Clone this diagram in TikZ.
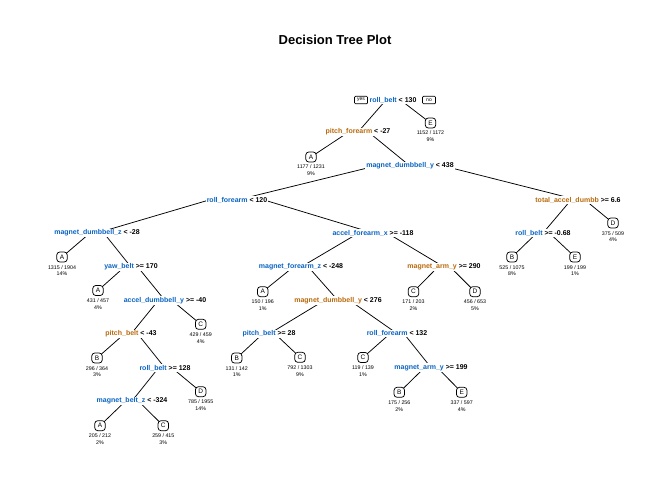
\documentclass[tikz,border=0pt]{standalone}
\usepackage{fontspec}
\setmainfont{Liberation Sans}
\usetikzlibrary{calc,backgrounds}
\definecolor{splitblue}{RGB}{10,100,195}
\definecolor{splitorange}{RGB}{185,105,10}
\newcommand\treeedge[2]{\draw[edge] (#1.center) -- ($(#1.center)!0.2!(#1.center -| #2.center)$) -- (#2.center);}
\newcommand\bv[1]{\textcolor{splitblue}{#1}}
\newcommand\ov[1]{\textcolor{splitorange}{#1}}
\tikzset{
  split/.style={fill=white, inner sep=1pt, font=\fontsize{7}{8}\selectfont\bfseries},
  leafbox/.style={draw, fill=white, rounded corners=3pt, minimum width=10.5pt, minimum height=10pt, inner sep=0pt, line width=0.75pt, font=\fontsize{6.5}{7}\selectfont},
  leaftext/.style={align=center, inner sep=0pt, font=\fontsize{5.3}{6.8}\selectfont},
  yesno/.style={draw, rounded corners=1pt, inner sep=0.5pt, minimum width=13pt, minimum height=7.5pt, line width=0.7pt, font=\fontsize{5}{5.5}\selectfont},
  edge/.style={line width=0.75pt, line join=round},
  titletext/.style={font=\fontsize{13}{15}\selectfont\bfseries}
}
\begin{document}
\begin{tikzpicture}[x=1pt,y=-1pt]
\useasboundingbox (0,0) rectangle (672,480);
\node[titletext] (title) at (335,40) {Decision Tree Plot};
% split nodes
\node[split] (n1) at (393,100) {\bv{roll\_belt} < 130};
\node[yesno] (yes) at (361,100) {yes};
\node[yesno] (no) at (429,100) {no};
\node[split] (n2) at (358,132) {\ov{pitch\_forearm} < -27};
\node[split] (n3) at (410,166) {\bv{magnet\_dumbbell\_y} < 438};
\node[split] (n4) at (237,200) {\bv{roll\_forearm} < 120};
\node[split] (n5) at (578,200) {\ov{total\_accel\_dumbb} >= 6.6};
\node[split] (n6) at (97,233) {\bv{magnet\_dumbbell\_z} < -28};
\node[split] (n7) at (373,233) {\bv{accel\_forearm\_x} >= -118};
\node[split] (n8) at (543,233) {\bv{roll\_belt} >= -0.68};
\node[split] (n9) at (131,267) {\bv{yaw\_belt} >= 170};
\node[split] (n10) at (301,267) {\bv{magnet\_forearm\_z} < -248};
\node[split] (n11) at (444,267) {\ov{magnet\_arm\_y} >= 290};
\node[split] (n12) at (165,300.5) {\bv{accel\_dumbbell\_y} >= -40};
\node[split] (n13) at (338,300.5) {\ov{magnet\_dumbbell\_y} < 276};
\node[split] (n14) at (131,334) {\ov{pitch\_belt} < -43};
\node[split] (n15) at (269,334) {\bv{pitch\_belt} >= 28};
\node[split] (n16) at (397,333.5) {\bv{roll\_forearm} < 132};
\node[split] (n17) at (165,368) {\bv{roll\_belt} >= 128};
\node[split] (n18) at (431,367.5) {\bv{magnet\_arm\_y} >= 199};
\node[split] (n19) at (132,401) {\bv{magnet\_belt\_z} < -324};
% leaves
\node[leafbox] (l1) at (430.5,123) {E};
\node[leaftext] (t1) at (430.5,136.5) {1152 / 1172\\9\%};
\node[leafbox] (l2) at (311,157) {A};
\node[leaftext] (t2) at (311,170.5) {1177 / 1231\\9\%};
\node[leafbox] (l3) at (62,257) {A};
\node[leaftext] (t3) at (62,270.5) {1315 / 1904\\14\%};
\node[leafbox] (l4) at (98,290.5) {A};
\node[leaftext] (t4) at (98,304) {431 / 457\\4\%};
\node[leafbox] (l5) at (200.7,324.3) {C};
\node[leaftext] (t5) at (200.7,337.8) {429 / 459\\4\%};
\node[leafbox] (l6) at (97,358) {B};
\node[leaftext] (t6) at (97,371.5) {296 / 364\\3\%};
\node[leafbox] (l7) at (100,425.7) {A};
\node[leaftext] (t7) at (100,439.2) {205 / 212\\2\%};
\node[leafbox] (l8) at (163.3,425.7) {C};
\node[leaftext] (t8) at (163.3,439.2) {259 / 415\\3\%};
\node[leafbox] (l9) at (200.7,391.7) {D};
\node[leaftext] (t9) at (200.7,405.2) {785 / 1955\\14\%};
\node[leafbox] (l10) at (262.7,291.7) {A};
\node[leaftext] (t10) at (262.7,305.2) {150 / 196\\1\%};
\node[leafbox] (l11) at (236.7,358) {B};
\node[leaftext] (t11) at (236.7,371.5) {131 / 142\\1\%};
\node[leafbox] (l12) at (300,357.3) {C};
\node[leaftext] (t12) at (300,370.8) {792 / 1303\\9\%};
\node[leafbox] (l13) at (363,357.5) {C};
\node[leaftext] (t13) at (363,371) {119 / 139\\1\%};
\node[leafbox] (l14) at (399.3,392.3) {B};
\node[leaftext] (t14) at (399.3,405.8) {175 / 256\\2\%};
\node[leafbox] (l15) at (461.7,392.3) {E};
\node[leaftext] (t15) at (461.7,405.8) {337 / 597\\4\%};
\node[leafbox] (l16) at (413.5,291.7) {C};
\node[leaftext] (t16) at (413.5,305.2) {171 / 203\\2\%};
\node[leafbox] (l17) at (475,291.7) {D};
\node[leaftext] (t17) at (475,305.2) {456 / 653\\5\%};
\node[leafbox] (l18) at (512,257) {B};
\node[leaftext] (t18) at (512,270.5) {525 / 1075\\8\%};
\node[leafbox] (l19) at (575,257) {E};
\node[leaftext] (t19) at (575,270.5) {199 / 199\\1\%};
\node[leafbox] (l20) at (613,223) {D};
\node[leaftext] (t20) at (613,236.5) {375 / 509\\4\%};
% edges
\begin{scope}[on background layer]
\treeedge{n1}{n2}
\treeedge{n1}{l1}
\treeedge{n2}{l2}
\treeedge{n2}{n3}
\treeedge{n3}{n4}
\treeedge{n3}{n5}
\treeedge{n4}{n6}
\treeedge{n4}{n7}
\treeedge{n5}{n8}
\treeedge{n5}{l20}
\treeedge{n6}{l3}
\treeedge{n6}{n9}
\treeedge{n9}{l4}
\treeedge{n9}{n12}
\treeedge{n12}{n14}
\treeedge{n12}{l5}
\treeedge{n14}{l6}
\treeedge{n14}{n17}
\treeedge{n17}{n19}
\treeedge{n17}{l9}
\treeedge{n19}{l7}
\treeedge{n19}{l8}
\treeedge{n7}{n10}
\treeedge{n7}{n11}
\treeedge{n10}{l10}
\treeedge{n10}{n13}
\treeedge{n13}{n15}
\treeedge{n13}{n16}
\treeedge{n15}{l11}
\treeedge{n15}{l12}
\treeedge{n16}{l13}
\treeedge{n16}{n18}
\treeedge{n18}{l14}
\treeedge{n18}{l15}
\treeedge{n11}{l16}
\treeedge{n11}{l17}
\treeedge{n8}{l18}
\treeedge{n8}{l19}
\end{scope}
\end{tikzpicture}
\end{document}
